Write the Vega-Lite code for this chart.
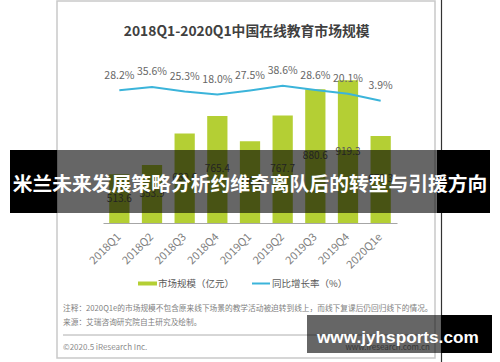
{
  "$schema": "https://vega.github.io/schema/vega-lite/v6.json",
  "width": 294,
  "height": 223,
  "autosize": {"type": "none"},
  "padding": {"left": 103, "right": 103, "top": 0, "bottom": 139},
  "background": "white",
  "config": {"view": {"stroke": null}, "font": "Noto Sans CJK SC"},
  "datasets": {
    "main": [
      {"q": "2018Q1", "size": 513.6, "growth": 0.282},
      {"q": "2018Q2", "size": 553.9, "growth": 0.356},
      {"q": "2018Q3", "size": 689.6, "growth": 0.253},
      {"q": "2018Q4", "size": 765.4, "growth": 0.180},
      {"q": "2019Q1", "size": 656.5, "growth": 0.275},
      {"q": "2019Q2", "size": 767.7, "growth": 0.386},
      {"q": "2019Q3", "size": 880.6, "growth": 0.286},
      {"q": "2019Q4", "size": 919.3, "growth": 0.201},
      {"q": "2020Q1e", "size": 679.3, "growth": 0.039}
    ],
    "one": [{"k": 1}]
  },
  "layer": [
    {
      "layer": [
        {
          "data": {"name": "one"},
          "mark": {"type": "rect", "fill": "white", "fillOpacity": 0, "stroke": "#c9c9c9", "strokeWidth": 1.5},
          "encoding": {"x": {"value": -46}, "x2": {"value": 332}, "y": {"value": 1}, "y2": {"value": 358}}
        },
        {
          "data": {"name": "one"},
          "mark": {"type": "rule", "color": "#333333", "strokeWidth": 1.2},
          "encoding": {"x": {"value": 338.5}, "y": {"value": 0}, "y2": {"value": 362}}
        },
        {
          "data": {"name": "one"},
          "mark": {"type": "text", "text": "2018Q1-2020Q1中国在线教育市场规模", "fontSize": 13.8, "fontWeight": "bold", "fill": "#404040", "align": "center", "baseline": "middle"},
          "encoding": {"x": {"value": 143.7}, "y": {"value": 32}}
        },
        {
          "data": {"name": "main"},
          "mark": {"type": "bar", "color": "#b4cf34"},
          "encoding": {
            "x": {"field": "q", "type": "ordinal", "sort": null,
              "scale": {"paddingInner": 0.38, "paddingOuter": 0.19},
              "axis": {"title": null, "zindex": 2, "labelAngle": -45, "labelAlign": "right", "labelBaseline": "middle", "labelPadding": 12, "ticks": false, "domainColor": "#a6a6a6", "labelColor": "#7f7f7f", "labelFontSize": 11, "labelFont": "Noto Sans CJK SC"}},
            "y": {"field": "size", "type": "quantitative", "scale": {"domain": [304, 1265.2], "zero": false, "nice": false}, "axis": null},
            "y2": {"datum": 304}
          }
        },
        {
          "data": {"name": "one"},
          "mark": {"type": "rect", "color": "#b4cf34"},
          "encoding": {"x": {"value": 35}, "x2": {"value": 54}, "y": {"value": 281.5}, "y2": {"value": 285.5}}
        },
        {
          "data": {"name": "one"},
          "mark": {"type": "text", "text": "市场规模（亿元）", "fontSize": 9.5, "fill": "#595959", "align": "left", "baseline": "middle"},
          "encoding": {"x": {"value": 55}, "y": {"value": 283.5}}
        },
        {
          "data": {"name": "one"},
          "mark": {"type": "rule", "color": "#3bb4da", "strokeWidth": 2},
          "encoding": {"x": {"value": 149}, "x2": {"value": 167}, "y": {"value": 283.5}}
        },
        {
          "data": {"name": "one"},
          "mark": {"type": "text", "text": "同比增长率（%）", "fontSize": 9.5, "fill": "#595959", "align": "left", "baseline": "middle"},
          "encoding": {"x": {"value": 169}, "y": {"value": 283.5}}
        }
      ]
    },
    {
      "data": {"name": "main"},
      "mark": {"type": "text", "fontSize": 10, "fill": "#595959", "baseline": "middle"},
      "encoding": {
        "x": {"field": "q", "type": "ordinal", "sort": null},
        "y": {"field": "size", "type": "quantitative", "scale": {"domain": [304, 2226.4], "zero": false, "nice": false}, "axis": null},
        "text": {"field": "size", "type": "quantitative", "format": ".1f"}
      }
    },
    {
      "layer": [
        {
          "data": {"name": "main"},
          "mark": {"type": "line", "strokeWidth": 2, "color": "#3bb4da"},
          "encoding": {
            "x": {"field": "q", "type": "ordinal", "sort": null},
            "y": {"field": "growth", "type": "quantitative", "scale": {"domain": [-2.792, 2.369], "zero": false, "nice": false}, "axis": null}
          }
        },
        {
          "data": {"name": "main"},
          "mark": {"type": "text", "fontSize": 10.5, "fill": "#666666", "baseline": "middle", "dy": -14.5},
          "encoding": {
            "x": {"field": "q", "type": "ordinal", "sort": null},
            "y": {"field": "growth", "type": "quantitative"},
            "text": {"field": "growth", "type": "quantitative", "format": ".1%"}
          }
        },
        {
          "data": {"name": "one"},
          "mark": {"type": "text", "text": "注释：2020Q1e的市场规模不包含原来线下场景的教学活动被迫转到线上，而线下复课后仍回归线下的情况。", "fontSize": 7.7, "fill": "#7f7f7f", "align": "left", "baseline": "middle"},
          "encoding": {"x": {"value": -40}, "y": {"value": 309}}
        },
        {
          "data": {"name": "one"},
          "mark": {"type": "text", "text": "来源：艾瑞咨询研究院自主研究及绘制。", "fontSize": 7.7, "fill": "#7f7f7f", "align": "left", "baseline": "middle"},
          "encoding": {"x": {"value": -40}, "y": {"value": 323}}
        },
        {
          "data": {"name": "one"},
          "mark": {"type": "rule", "color": "#9a9a9a", "strokeWidth": 0.8},
          "encoding": {"x": {"value": -40}, "x2": {"value": 327}, "y": {"value": 335}}
        },
        {
          "data": {"name": "one"},
          "mark": {"type": "text", "text": "©2020.5 iResearch Inc.", "fontSize": 8, "fill": "#8c8c8c", "align": "left", "baseline": "middle"},
          "encoding": {"x": {"value": -40}, "y": {"value": 348}}
        },
        {
          "data": {"name": "one"},
          "mark": {"type": "text", "text": "www.iresearch.com.cn", "fontSize": 8, "fill": "#8c8c8c", "align": "right", "baseline": "middle"},
          "encoding": {"x": {"value": 327}, "y": {"value": 348}}
        },
        {
          "data": {"name": "one"},
          "mark": {"type": "rect", "fill": "black", "opacity": 0.6},
          "encoding": {"x": {"value": -46}, "x2": {"value": 334}, "y": {"value": 150}, "y2": {"value": 213}}
        },
        {
          "data": {"name": "one"},
          "mark": {"type": "rect", "fill": "black"},
          "encoding": {"x": {"value": -93}, "x2": {"value": -46}, "y": {"value": 150}, "y2": {"value": 213}}
        },
        {
          "data": {"name": "one"},
          "mark": {"type": "rect", "fill": "black"},
          "encoding": {"x": {"value": 334}, "x2": {"value": 387}, "y": {"value": 150}, "y2": {"value": 213}}
        },
        {
          "data": {"name": "one"},
          "mark": {"type": "text", "text": "米兰未来发展策略分析约维奇离队后的转型与引援方向", "fontSize": 19.8, "fontWeight": "bold", "fill": "white", "align": "center", "baseline": "middle"},
          "encoding": {"x": {"value": 147}, "y": {"value": 185}}
        },
        {
          "data": {"name": "one"},
          "mark": {"type": "rect", "fill": "black", "opacity": 0.6},
          "encoding": {"x": {"value": 204}, "x2": {"value": 338}, "y": {"value": 315}, "y2": {"value": 353}}
        },
        {
          "data": {"name": "one"},
          "mark": {"type": "rect", "fill": "black"},
          "encoding": {"x": {"value": 338}, "x2": {"value": 389}, "y": {"value": 315}, "y2": {"value": 353}}
        },
        {
          "data": {"name": "one"},
          "mark": {"type": "text", "text": "www.jyhsports.com", "fontSize": 17.2, "fontWeight": "bold", "font": "Liberation Sans", "fill": "white", "align": "left", "baseline": "alphabetic"},
          "encoding": {"x": {"value": 214}, "y": {"value": 342.5}}
        }
      ]
    }
  ],
  "resolve": {"scale": {"y": "independent"}}
}
